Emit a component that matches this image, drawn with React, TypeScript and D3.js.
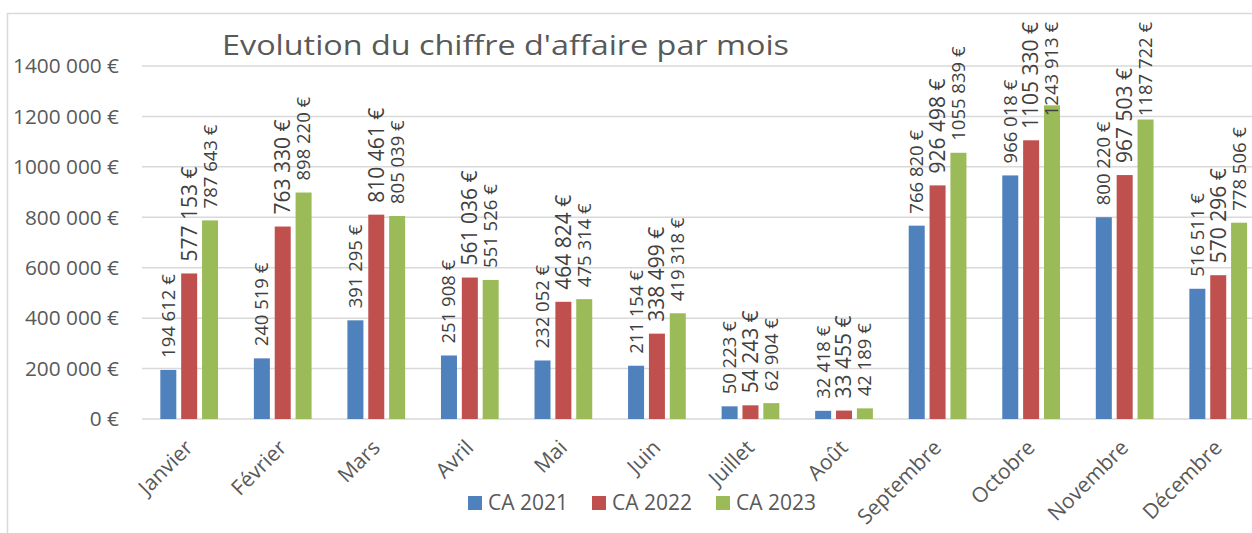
import React, { useEffect, useRef } from 'react';
import * as d3 from 'd3';

const months = ['Janvier', 'Février', 'Mars', 'Avril', 'Mai', 'Juin', 'Juillet', 'Août', 'Septembre', 'Octobre', 'Novembre', 'Décembre'];
const ca2021 = [194612, 240519, 391295, 251908, 232052, 211154, 50223, 32418, 766820, 966018, 800220, 516511];
const ca2022 = [577153, 763330, 810461, 561036, 464824, 338499, 54243, 33455, 926498, 1105330, 967503, 570296];
const ca2023 = [787643, 898220, 805039, 551526, 475314, 419318, 62904, 42189, 1055839, 1243913, 1187722, 778506];
const seriesNames = ['CA 2021', 'CA 2022', 'CA 2023'];
const seriesColors = ['#4F81BD', '#C0504D', '#9BBB59'];
const yTicks = [0, 200000, 400000, 600000, 800000, 1000000, 1200000, 1400000];

const W = 1252;
const H = 533;
const FONT = '"Open Sans", sans-serif';

// format like "1105 330 €" (one separator only, as in the sheet)
const fmt = (v: number) => {
  const th = Math.floor(v / 1000);
  const r = v % 1000;
  return th > 0 ? `${th} ${String(r).padStart(3, '0')} €` : `${v} €`;
};

export default function App() {
  const ref = useRef<SVGSVGElement>(null);

  useEffect(() => {
    let cancelled = false;

    const draw = () => {
      if (cancelled) return;
      const svg = d3.select(ref.current);
      svg.selectAll('*').remove();

      const series = [ca2021, ca2022, ca2023];

      const x0 = d3.scaleBand().domain(months).range([142.4, 1265]).paddingInner(0.383).paddingOuter(0.1915);
      const x1 = d3.scaleBand<number>().domain([0, 1, 2]).range([0, x0.bandwidth()]).paddingInner(0.233);
      const y = d3.scaleLinear().domain([0, 1400000]).range([419, 66]);

      // chart frame
      svg.append('rect')
        .attr('x', 7.5).attr('y', 13.5)
        .attr('width', 1400).attr('height', 700)
        .attr('fill', 'none').attr('stroke', '#d9d9d9').attr('stroke-width', 1.5);

      // gridlines
      svg.append('g').selectAll('line').data(yTicks).join('line')
        .attr('x1', 142).attr('x2', 1265)
        .attr('y1', d => y(d)).attr('y2', d => y(d))
        .attr('stroke', '#d9d9d9').attr('stroke-width', 1.5);

      // y labels
      svg.append('g').selectAll('text').data(yTicks).join('text')
        .attr('x', 119).attr('y', d => y(d))
        .attr('dy', '0.35em')
        .attr('text-anchor', 'end')
        .attr('font-family', FONT).attr('font-size', 20.8)
        .attr('fill', '#595959')
        .text(d => fmt(d));

      // title
      svg.append('text')
        .attr('x', 222).attr('y', 55)
        .attr('font-family', FONT).attr('font-size', 28)
        .attr('textLength', 567).attr('lengthAdjust', 'spacingAndGlyphs')
        .attr('fill', '#595959')
        .text("Evolution du chiffre d'affaire par mois");

      // bars + labels
      series.forEach((vals, si) => {
        const g = svg.append('g');
        g.selectAll('rect').data(vals).join('rect')
          .attr('x', (d, i) => x0(months[i])! + x1(si)!)
          .attr('y', d => y(d))
          .attr('width', x1.bandwidth())
          .attr('height', d => y(0) - y(d))
          .attr('fill', seriesColors[si]);

        const labels = g.selectAll('text').data(vals).join('text')
          .attr('font-family', FONT)
          .attr('font-size', si === 1 ? 21 : 18.5)
          .attr('fill', '#404040')
          .attr('dy', '0.35em')
          .text(d => fmt(d));

        labels.each(function (d, i) {
          const t = this as SVGTextElement;
          const len = t.getComputedTextLength();
          const cx = x0(months[i])! + x1(si)! + x1.bandwidth() / 2;
          let start = y(d) - 12;
          if (start - len < 22) start = 22 + len;
          d3.select(t).attr('transform', `translate(${cx},${start}) rotate(-90)`);
        });
      });

      // month labels
      svg.append('g').selectAll('text').data(months).join('text')
        .attr('text-anchor', 'end')
        .attr('transform', d => `translate(${x0(d)! + x0.bandwidth() / 2 + 5},449) rotate(-45)`)
        .attr('font-family', FONT).attr('font-size', 21)
        .attr('fill', '#595959')
        .text(d => d);

      // legend
      let lx = 468;
      seriesNames.forEach((name, i) => {
        svg.append('rect')
          .attr('x', lx).attr('y', 496)
          .attr('width', 14).attr('height', 14)
          .attr('fill', seriesColors[i]);
        const t = svg.append('text')
          .attr('x', lx + 20).attr('y', 510)
          .attr('font-family', FONT).attr('font-size', 21)
          .attr('fill', '#595959')
          .text(name);
        const tw = (t.node() as SVGTextElement).getComputedTextLength();
        lx += 20 + tw + 24;
      });
    };

    // wait for the font so text measuring is right
    const fonts = (document as any).fonts;
    if (fonts && fonts.load) {
      fonts.load('20px "Open Sans"').then(draw, draw);
    } else {
      draw();
    }
    return () => { cancelled = true; };
  }, []);

  return (
    <svg
      ref={ref}
      width={W}
      height={H}
      style={{ position: 'absolute', left: 0, top: 0, display: 'block', background: '#fff' }}
    />
  );
}
